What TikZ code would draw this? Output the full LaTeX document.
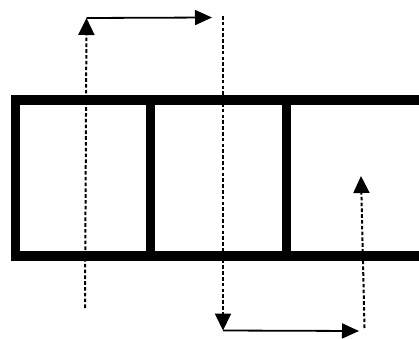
\documentclass[tikz,border=0pt]{standalone}
\usetikzlibrary{arrows.meta}
\begin{document}
\begin{tikzpicture}[x=1pt,y=1pt,
  wall/.style={line width=9.4pt,draw=black},
  dashconn/.style={line width=2pt,dash pattern=on 3.6pt off 2.2pt,-{Triangle[length=17pt,width=16pt]}},
  solidconn/.style={line width=1.8pt,-{Triangle[length=17pt,width=15pt]}}]
\useasboundingbox (0,0) rectangle (419,338);
\begin{scope}
\clip (0,0) rectangle (419,338);
\draw[wall] (15.5,238) rectangle (440,82);
\draw[wall] (150.5,238) -- (150.5,82);
\draw[wall] (286.7,238) -- (286.7,82);
\end{scope}
\coordinate (a1) at (85,30);
\coordinate (a2) at (86.5,320);
\coordinate (b2) at (212,320.5);
\coordinate (c1) at (223,322);
\coordinate (c2) at (223,7.5);
\coordinate (d2) at (359,7);
\coordinate (e1) at (364.5,10);
\coordinate (e2) at (361,162);
\draw[dashconn] (a1) -- (a2);
\draw[solidconn] (a2) -- (b2);
\draw[dashconn] (c1) -- (c2);
\draw[solidconn] (c2) -- (d2);
\draw[dashconn] (e1) -- (e2);
\end{tikzpicture}
\end{document}
